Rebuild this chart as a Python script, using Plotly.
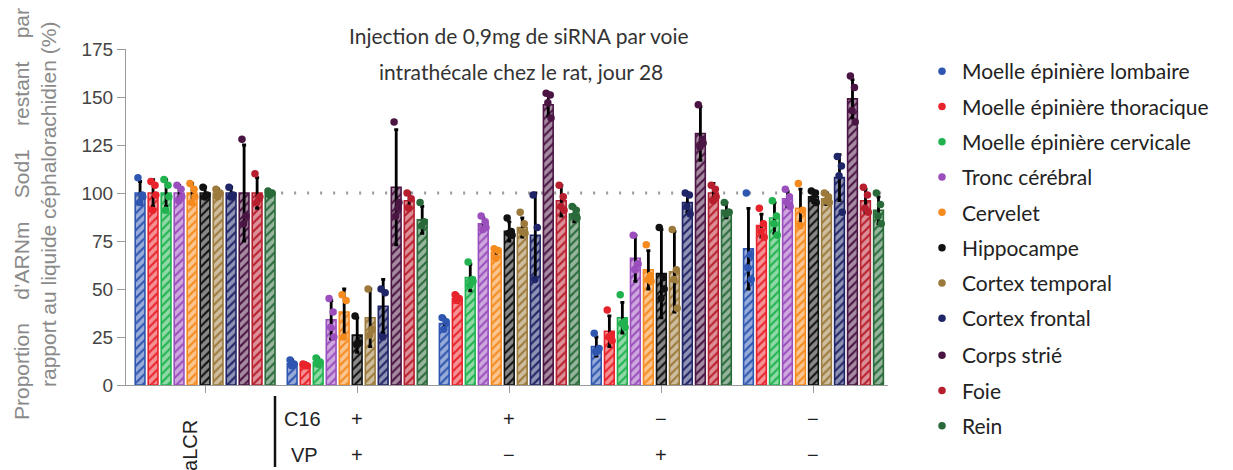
import plotly.graph_objects as go

# Tissues (legend order) and their colours
tissues = [
    "Moelle épinière lombaire", "Moelle épinière thoracique", "Moelle épinière cervicale",
    "Tronc cérébral", "Cervelet", "Hippocampe", "Cortex temporal", "Cortex frontal",
    "Corps strié", "Foie", "Rein",
]
colors = [
    "#2f56b0", "#e8232b", "#21b24f", "#9b4fbd", "#f58a1f", "#111111",
    "#9c7a3c", "#1f2566", "#4b1543", "#b81f2e", "#2a6a3a",
]

# Treatment groups (aLCR control, then C16 / VP combinations)
groups = ["aLCR", "C16+ VP+", "C16+ VP−", "C16− VP+", "C16− VP−"]
c16_signs = ["+", "+", "−", "−"]
vp_signs = ["+", "−", "+", "−"]

# Mean remaining Sod1 mRNA (%), one list per tissue across the 5 groups
means = {
    "Moelle épinière lombaire":   [100, 11, 32, 20, 71],
    "Moelle épinière thoracique": [100, 10.5, 45, 28, 83],
    "Moelle épinière cervicale":  [100, 12, 56, 35, 87],
    "Tronc cérébral":             [100, 34, 84, 66, 97],
    "Cervelet":                   [100, 38, 69, 60, 92],
    "Hippocampe":                 [100, 26, 80, 58, 98],
    "Cortex temporal":            [100, 35, 82, 59, 97],
    "Cortex frontal":             [100, 41, 78, 95, 108],
    "Corps strié":                [100, 103, 146, 131, 149],
    "Foie":                       [100, 96, 96, 100, 96],
    "Rein":                       [100, 86, 89, 91, 91],
}

# Standard deviations
sds = {
    "Moelle épinière lombaire":   [6, 2, 3, 5, 21],
    "Moelle épinière thoracique": [7, 1, 2, 8, 6],
    "Moelle épinière cervicale":  [7, 2, 7, 8, 8],
    "Tronc cérébral":             [4, 10, 3, 12, 4],
    "Cervelet":                   [5, 12, 2, 10, 10],
    "Hippocampe":                 [3, 9, 5, 23, 3],
    "Cortex temporal":            [2, 15, 5, 21, 3],
    "Cortex frontal":             [3, 14, 22, 5, 12],
    "Corps strié":                [25, 30, 6, 14, 10],
    "Foie":                       [8, 4, 8, 5, 6],
    "Rein":                       [1, 7, 4, 4, 7],
}

# Individual animals
points = {
    "Moelle épinière lombaire":   [[108, 99, 95, 98], [13, 11, 10], [35, 33, 29], [27, 18, 17, 19], [100, 68, 61, 55]],
    "Moelle épinière thoracique": [[106, 104, 91, 99], [11, 10, 10], [47, 45, 44], [39, 26, 25, 23], [92, 84, 80, 77]],
    "Moelle épinière cervicale":  [[107, 104, 91, 98], [14, 12, 11], [64, 55, 52, 54], [47, 33, 32, 30], [96, 88, 84, 78]],
    "Tronc cérébral":             [[104, 102, 96, 98], [45, 38, 30, 25], [88, 85, 81, 82], [78, 63, 60, 63], [102, 98, 95, 93]],
    "Cervelet":                   [[105, 102, 95, 98], [47, 44, 25], [71, 70, 66], [73, 57, 55, 54], [105, 91, 83]],
    "Hippocampe":                 [[103, 99, 98], [36, 22, 21], [87, 80, 79, 78], [82, 56, 45, 50], [101, 100, 97, 95]],
    "Cortex temporal":            [[102, 100, 98], [50, 29, 26], [90, 84, 80, 79], [81, 60, 55, 40], [100, 98, 96, 95]],
    "Cortex frontal":             [[103, 99, 98], [50, 48, 25], [99, 82, 55], [100, 99, 93, 89], [119, 114, 109, 90]],
    "Corps strié":                [[128, 88, 84], [137, 92, 88, 95], [152, 151, 147, 139], [146, 128, 124, 126], [161, 155, 143, 137]],
    "Foie":                       [[110, 97, 95, 98], [100, 97, 92], [104, 98, 93, 91], [104, 102, 96, 98], [103, 99, 92, 90]],
    "Rein":                       [[101, 100, 99], [95, 85, 83], [93, 91, 88, 87], [95, 90, 89, 90], [100, 94, 88, 84]],
}

y_ticks = [0, 25, 50, 75, 100, 125, 150, 175]

# Layout constants (pixels / data units)
W, H = 1233, 470
ML, MR, MT, MB = 126, 345, 49, 85
STEP = 0.0855          # distance between neighbouring bars within a group
BAR_W = 0.064
JITTER = [-0.014, 0.013, -0.003, 0.018]
X_RANGE = [-0.52, 4.49]
LEGEND_SPLIT = 8       # the legend is drawn as two stacked blocks
LEGEND_ROW = 35.5      # px between legend rows
LEGEND_TOP = 51

n = len(tissues)
fig = go.Figure()

for i, (name, col) in enumerate(zip(tissues, colors)):
    xs = [g + (i - (n - 1) / 2) * STEP for g in range(len(groups))]
    fig.add_trace(go.Bar(
        x=xs, y=means[name], width=BAR_W, name=name, showlegend=False,
        marker=dict(
            color=col,
            line=dict(color=col, width=1.6),
            pattern=dict(shape="/", fgcolor="white", size=6, solidity=0.65),
        ),
        error_y=dict(type="data", array=sds[name], color="#000000", thickness=2.8, width=2),
    ))

for i, (name, col) in enumerate(zip(tissues, colors)):
    px, py = [], []
    for g in range(len(groups)):
        base = g + (i - (n - 1) / 2) * STEP
        for k, v in enumerate(points[name][g]):
            px.append(base + JITTER[k % len(JITTER)])
            py.append(v)
    fig.add_trace(go.Scatter(
        x=px, y=py, mode="markers", name=name, legendgroup=name,
        legend="legend" if i < LEGEND_SPLIT else "legend2",
        marker=dict(color=col, size=7.5),
    ))

# Reference line at 100 %
fig.add_shape(type="line", xref="x", yref="y", x0=0.5, x1=X_RANGE[1], y0=100, y1=100,
              line=dict(color="#9a9a9a", width=3, dash="2px,11px"), layer="below")

plot_w = W - ML - MR
plot_h = H - MT - MB


def px_x(p):
    return (p - ML) / plot_w


def px_y(p):
    return 1 - (p - MT) / plot_h


ann = []
# Title, two lines
title_font = dict(family="Lato", size=21, color="#333333")
ann.append(dict(text="Injection de 0,9mg de siRNA par voie", xref="paper", yref="paper",
                x=px_x(519), y=px_y(36), xanchor="center", yanchor="middle",
                showarrow=False, font=title_font))
ann.append(dict(text="intrathécale chez le rat, jour 28", xref="paper", yref="paper",
                x=px_x(521), y=px_y(71), xanchor="center", yanchor="middle",
                showarrow=False, font=title_font))
# Y axis title (two lines)
sp = "\u00a0\u00a0\u00a0\u00a0"
ytitle_font = dict(family="Liberation Sans", size=21, color="#8a8a8a")
ann.append(dict(text=f"Proportion{sp}d’ARNm{sp}Sod1{sp}restant{sp}par",
                xref="paper", yref="paper", x=px_x(21), y=px_y(214), textangle=-90,
                xanchor="center", yanchor="middle", showarrow=False, font=ytitle_font))
ann.append(dict(text="rapport au liquide céphalorachidien (%)",
                xref="paper", yref="paper", x=px_x(48), y=px_y(205), textangle=-90,
                xanchor="center", yanchor="middle", showarrow=False, font=ytitle_font))
# Group annotations under the axis
lab_font = dict(family="Liberation Sans", size=20, color="#222222")
ann.append(dict(text=groups[0], xref="x", yref="paper", x=-0.1, y=px_y(445), textangle=-90,
                xanchor="center", yanchor="middle", showarrow=False, font=lab_font))
ann.append(dict(text="C16", xref="paper", yref="paper", x=px_x(302), y=px_y(419),
                xanchor="center", yanchor="middle", showarrow=False, font=lab_font))
ann.append(dict(text="VP", xref="paper", yref="paper", x=px_x(304), y=px_y(455),
                xanchor="center", yanchor="middle", showarrow=False, font=lab_font))
for g, (c, v) in enumerate(zip(c16_signs, vp_signs), start=1):
    ann.append(dict(text=c, xref="x", yref="paper", x=g, y=px_y(419), xanchor="center",
                    yanchor="middle", showarrow=False, font=lab_font))
    ann.append(dict(text=v, xref="x", yref="paper", x=g, y=px_y(455), xanchor="center",
                    yanchor="middle", showarrow=False, font=lab_font))

fig.add_shape(type="line", xref="paper", yref="paper", x0=px_x(275), x1=px_x(275),
              y0=px_y(396), y1=px_y(467), line=dict(color="#111111", width=2.5))

legend_style = dict(xanchor="left", yanchor="top",
                    font=dict(family="Lato", size=21, color="#222222"),
                    tracegroupgap=5, itemsizing="trace", bgcolor="rgba(0,0,0,0)")

fig.update_layout(
    width=W, height=H,
    margin=dict(l=ML, r=MR, t=MT, b=MB),
    paper_bgcolor="white", plot_bgcolor="white",
    barmode="overlay",
    annotations=ann,
    legend=dict(x=px_x(922), y=px_y(LEGEND_TOP), **legend_style),
    legend2=dict(x=px_x(922), y=px_y(LEGEND_TOP + LEGEND_SPLIT * LEGEND_ROW), **legend_style),
    xaxis=dict(range=X_RANGE, tickvals=list(range(len(groups))), ticktext=[""] * len(groups),
               showline=True, linecolor="#9a9a9a", linewidth=1, ticks="outside",
               ticklen=7, tickcolor="#9a9a9a", showgrid=False, zeroline=False),
    yaxis=dict(range=[0, 175], tickvals=y_ticks, showline=True, linecolor="#9a9a9a", linewidth=1,
               ticks="outside", ticklen=8, tickcolor="#9a9a9a", showgrid=False, zeroline=False,
               tickfont=dict(family="Liberation Sans", size=19, color="#444444")),
)

fig.write_html("out.html")
